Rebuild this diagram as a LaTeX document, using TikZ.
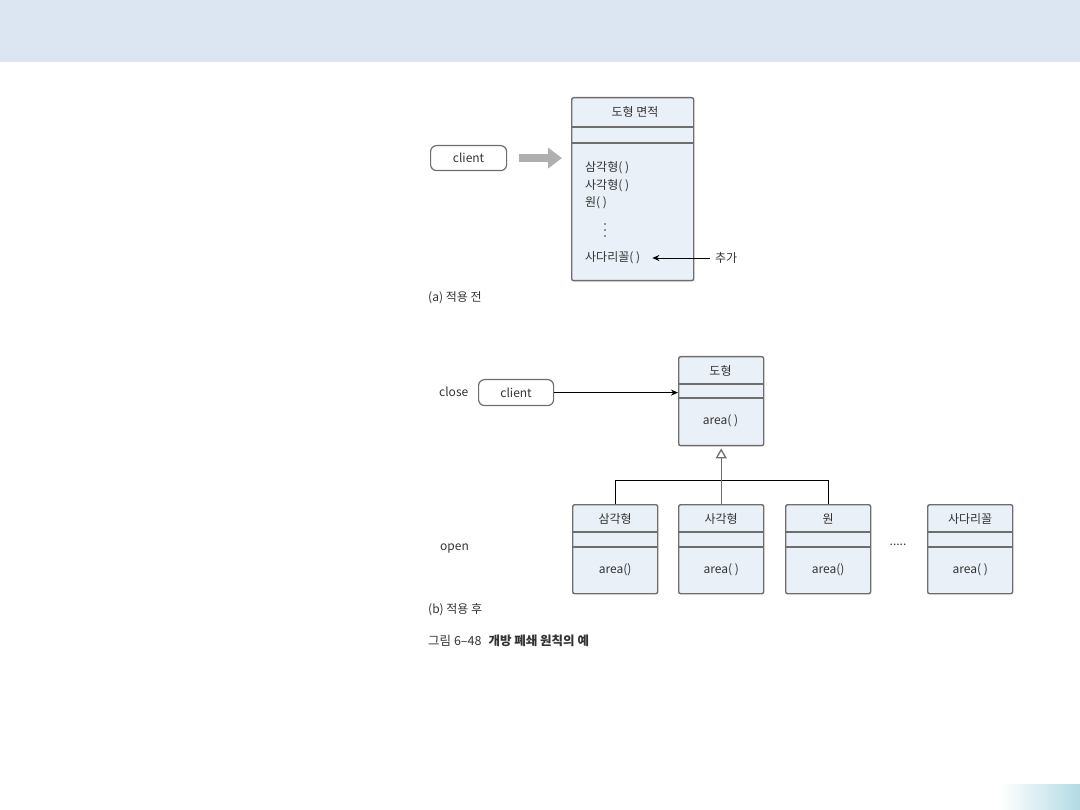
\documentclass[tikz,border=0pt]{standalone}
\usepackage{fontspec}
\setmainfont{Noto Sans CJK KR}
\usetikzlibrary{arrows.meta}
\definecolor{banner}{HTML}{DCE6F2}
\definecolor{boxc}{HTML}{6E6E6E}
\definecolor{boxfill}{HTML}{E9F0F7}
\definecolor{txt}{HTML}{333333}
\definecolor{fatarrow}{HTML}{AFAFAF}
\definecolor{grad}{HTML}{B3DAE4}
\tikzset{
  cls/.style={draw=boxc, line width=1.4pt, fill=boxfill, rounded corners=2pt, inner sep=0pt, anchor=north west},
  sepline/.style={draw=boxc, line width=2.4pt},
  pill/.style={draw=boxc, line width=1.2pt, fill=white, rounded corners=6pt, inner sep=0pt, font=\fontsize{12}{14}\selectfont, text=txt},
  lbl/.style={font=\fontsize{12}{14}\selectfont, text=txt, inner sep=0pt},
}
\begin{document}
\begin{tikzpicture}[x=1pt,y=-1pt]
\useasboundingbox (0,0) rectangle (1080,810);
\fill[banner] (0,0) rectangle (1080,62);
\shade[left color=white, right color=grad] (1000,784) rectangle (1080,810);

% ---------- (a) ----------
\node[cls, minimum width=122pt, minimum height=183pt] (B1) at (571,97) {};
\draw[sepline] ([yshift=-30pt]B1.north west) -- ([yshift=-30pt]B1.north east);
\draw[sepline] ([yshift=-46pt]B1.north west) -- ([yshift=-46pt]B1.north east);
\node[lbl] (B1t) at (635,112) {도형 면적};
\node[lbl, anchor=west] (m1) at (585,168) {삼각형( )};
\node[lbl, anchor=west] (m2) at (585,186) {사각형( )};
\node[lbl, anchor=west] (m3) at (585,203) {원( )};
\foreach \yy in {224,230,236} \fill[txt] (605,\yy) circle (0.8pt);
\node[lbl, anchor=west] (m4) at (585,258) {사다리꼴( )};
\node[lbl, anchor=west] (add) at (715,258) {추가};
\draw[-{Stealth[length=7pt,width=6pt]}, line width=0.8pt] (add.west) ++(-5pt,0) -- ([xshift=12pt]m4.east);

\node[pill, minimum width=76pt, minimum height=25pt, anchor=north west] (cl1) at (430,145) {client};
\draw[fatarrow, line width=8pt, -{Triangle[length=14pt,width=20pt]}, shorten <=12pt, shorten >=9pt] (cl1.east) -- (cl1.east -| B1.west);

\node[lbl, anchor=west] (capa) at (428,298) {(a) 적용 전};

% ---------- (b) ----------
\node[cls, minimum width=85pt, minimum height=89pt] (B2) at (678,356) {};
\draw[sepline] ([yshift=-28pt]B2.north west) -- ([yshift=-28pt]B2.north east);
\draw[sepline] ([yshift=-42pt]B2.north west) -- ([yshift=-42pt]B2.north east);
\node[lbl] (B2t) at (720.5,371) {도형};
\node[lbl] (B2m) at (720.5,421) {area( )};

\node[lbl, anchor=west] (close) at (439,392) {close};
\node[pill, minimum width=75pt, minimum height=26pt, anchor=north west] (cl2) at (478,379) {client};
\draw[-{Stealth[length=7pt,width=6pt]}, line width=0.8pt] (cl2.east) -- (cl2.east -| B2.west);

\foreach \n/\x/\t/\m in {c1/572/삼각형/area(),c2/678/사각형/area( ),c3/785/원/area(),c4/927/사다리꼴/area( )}{
  \node[cls, minimum width=85pt, minimum height=89pt] (\n) at (\x,504) {};
  \draw[sepline] ([yshift=-28pt]\n.north west) -- ([yshift=-28pt]\n.north east);
  \draw[sepline] ([yshift=-43pt]\n.north west) -- ([yshift=-43pt]\n.north east);
  \node[lbl] (\n t) at ([yshift=-15pt]\n.north) {\t};
  \node[lbl] (\n m) at ([yshift=-66pt]\n.north) {\m};
}
\coordinate (hub) at (720,480);
\draw[line width=0.8pt] (c1.north) -- (c1.north |- hub) -- (c3.north |- hub) -- (c3.north);
\draw[boxc, line width=0.8pt, -{Triangle[open, length=10pt, width=11pt, line width=1.3pt]}] (c2.north) -- ([yshift=-2pt]B2.south);

\node[lbl] (ell) at (898,545) {.....};
\node[lbl, anchor=west] (open) at (440,549) {open};
\node[lbl, anchor=west] (capb) at (428,610) {(b) 적용 후};
\node[lbl, anchor=west, font=\fontsize{12.5}{14}\selectfont] (fig) at (428,641) {그림 6–48\hspace{7pt}{\bfseries 개방 폐쇄 원칙의 예}};
\end{tikzpicture}
\end{document}
